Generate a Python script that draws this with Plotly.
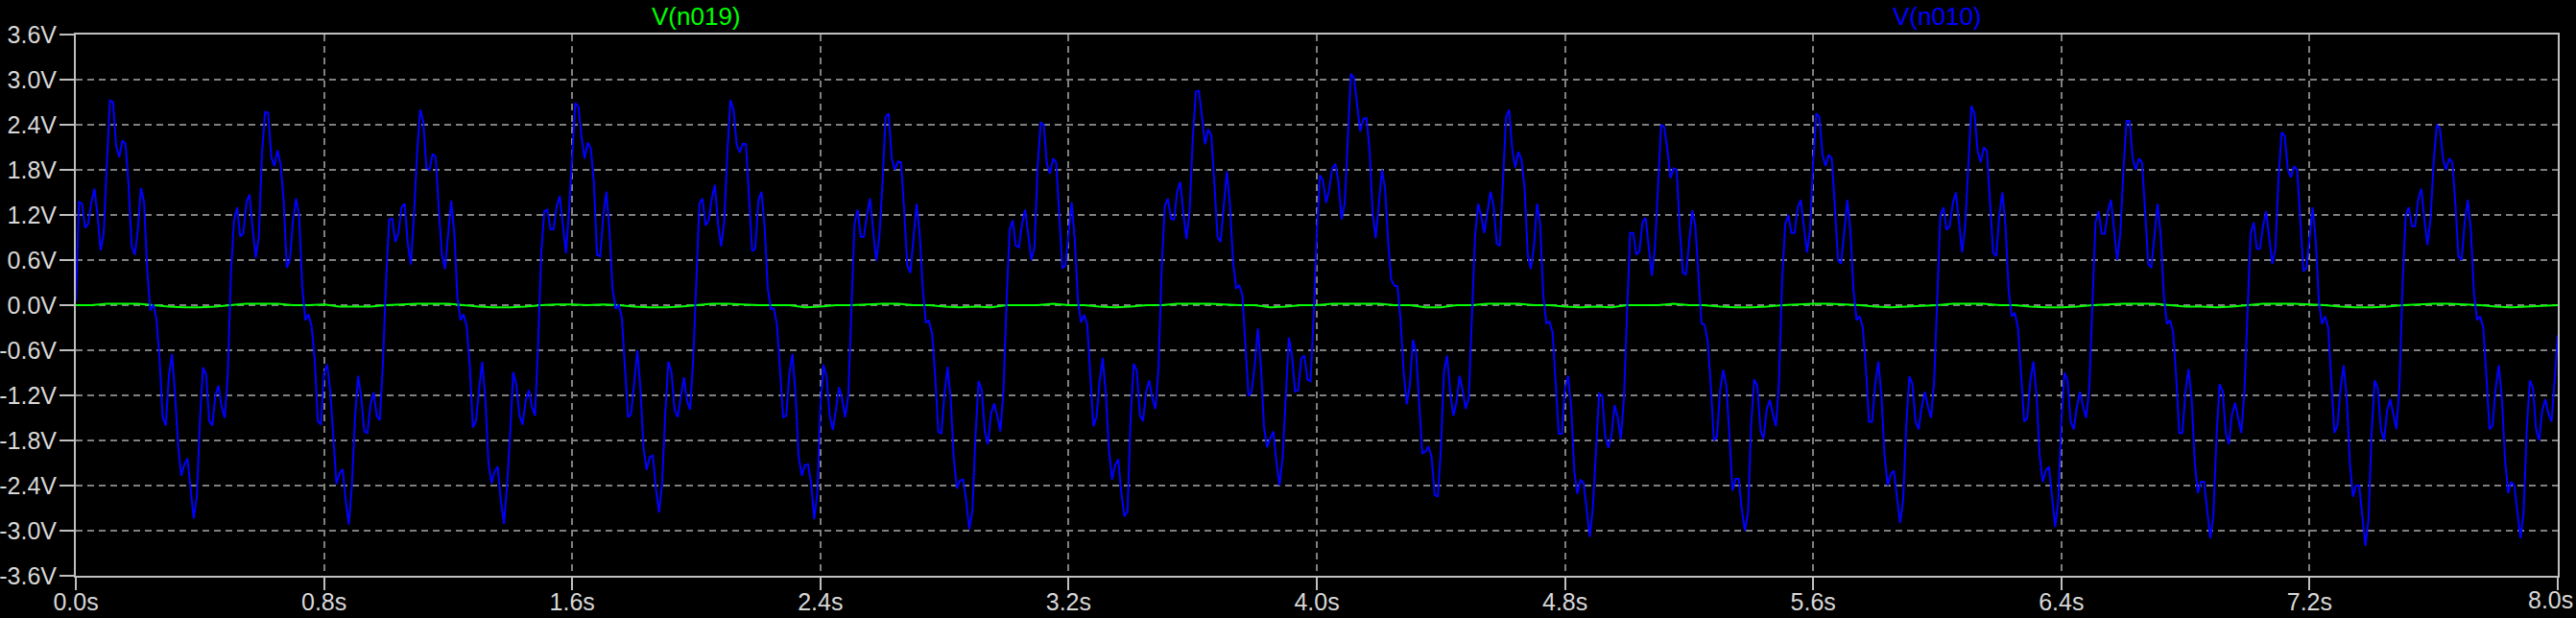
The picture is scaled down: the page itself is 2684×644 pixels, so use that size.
import plotly.graph_objects as go

# ---------------- data ----------------
DT_N010 = 0.01   # sample step of V(n010), seconds
DT_N019 = 0.05   # sample step of V(n019), seconds

n010_s0 = [0.05, 1.37, 1.35, 1.03, 1.08, 1.36, 1.55, 1.20, 0.73, 0.96,
           1.88, 2.72, 2.70, 2.12, 1.97, 2.19, 2.15, 1.61, 0.79, 0.67,
           1.01, 1.56, 1.37, 0.48, -0.07, 0.01, -0.19, -0.72, -1.49, -1.60,
           -0.94, -0.65, -1.20, -1.88, -2.27, -2.12, -2.04, -2.48, -2.84, -2.55,
           -1.54, -0.83, -0.92, -1.54, -1.60, -1.20, -1.07, -1.35, -1.50, -0.91,
           0.43, 1.13, 1.30, 0.91, 0.96, 1.37, 1.47, 1.02, 0.63, 0.91,
           2.02, 2.57, 2.56, 1.97, 1.85, 2.06, 1.88, 1.39, 0.50, 0.60,
           1.13, 1.42, 1.18, 0.24, -0.20, -0.12, -0.28, -0.72, -1.54, -1.59,
           -0.91, -0.79, -1.13, -1.75, -2.38, -2.24, -2.18, -2.60, -2.92, -2.40,
           -1.49, -0.94, -1.23, -1.68, -1.70, -1.32, -1.16, -1.47, -1.53, -0.77]
n010_s1 = [0.34, 1.14, 1.15, 0.84, 0.96, 1.30, 1.35, 0.82, 0.54, 1.20,
           2.02, 2.60, 2.45, 1.83, 1.80, 2.01, 1.97, 1.27, 0.67, 0.48,
           0.91, 1.39, 0.96, 0.10, -0.20, -0.12, -0.28, -0.82, -1.63, -1.54,
           -1.11, -0.75, -1.25, -2.09, -2.37, -2.21, -2.15, -2.60, -2.91, -2.40,
           -1.71, -0.89, -1.06, -1.47, -1.59, -1.27, -1.13, -1.35, -1.47, -0.53,
           0.67, 1.25, 1.27, 1.01, 1.01, 1.32, 1.45, 1.05, 0.69, 1.27,
           2.07, 2.69, 2.64, 2.24, 1.95, 2.16, 2.09, 1.63, 0.67, 0.65,
           1.18, 1.51, 1.01, 0.22, -0.05, 0.01, -0.17, -0.77, -1.49, -1.45,
           -1.02, -0.60, -1.11, -1.90, -2.19, -2.02, -2.00, -2.45, -2.76, -2.36,
           -1.44, -0.75, -0.89, -1.39, -1.49, -1.20, -0.96, -1.27, -1.39, -0.72]
n010_s2 = [0.29, 1.35, 1.42, 1.06, 1.13, 1.42, 1.60, 1.08, 0.78, 1.11,
           2.02, 2.73, 2.60, 2.14, 2.03, 2.15, 2.14, 1.35, 0.72, 0.75,
           1.39, 1.51, 1.06, 0.24, -0.05, -0.04, -0.26, -0.87, -1.49, -1.47,
           -0.91, -0.65, -1.20, -2.02, -2.27, -2.13, -2.12, -2.36, -2.85, -2.50,
           -1.35, -0.79, -0.96, -1.47, -1.66, -1.40, -1.09, -1.25, -1.49, -1.20,
           -0.14, 1.08, 1.27, 0.91, 0.91, 1.20, 1.42, 1.03, 0.59, 0.91,
           1.61, 2.50, 2.55, 1.95, 1.80, 1.91, 1.90, 1.27, 0.53, 0.43,
           0.87, 1.35, 0.96, 0.22, -0.23, -0.21, -0.38, -0.94, -1.68, -1.71,
           -1.18, -0.82, -1.25, -2.04, -2.44, -2.33, -2.32, -2.60, -2.98, -2.74,
           -1.73, -1.01, -1.13, -1.68, -1.85, -1.44, -1.31, -1.47, -1.68, -1.15]
n010_s3 = [0.05, 1.01, 1.13, 0.79, 0.77, 1.08, 1.27, 0.94, 0.60, 0.77,
           1.83, 2.43, 2.40, 1.88, 1.75, 1.95, 1.90, 1.20, 0.49, 0.53,
           0.99, 1.37, 0.87, 0.06, -0.23, -0.13, -0.25, -0.91, -1.61, -1.49,
           -1.01, -0.70, -1.18, -1.92, -2.32, -2.13, -2.05, -2.50, -2.81, -2.74,
           -1.49, -0.78, -0.87, -1.47, -1.54, -1.15, -1.00, -1.24, -1.38, -0.82,
           0.48, 1.32, 1.42, 1.15, 1.14, 1.51, 1.64, 1.23, 0.88, 1.25,
           2.19, 2.84, 2.85, 2.50, 2.14, 2.34, 2.26, 1.61, 0.91, 0.84,
           1.37, 1.78, 1.35, 0.58, 0.23, 0.26, 0.14, -0.48, -1.21, -1.15,
           -0.79, -0.31, -0.82, -1.63, -1.89, -1.77, -1.68, -2.09, -2.40, -2.02,
           -1.23, -0.43, -0.67, -1.15, -1.13, -0.71, -0.67, -0.99, -1.01, -0.14]
n010_s4 = [0.96, 1.73, 1.66, 1.36, 1.54, 1.82, 1.88, 1.63, 1.14, 1.35,
           2.21, 3.08, 3.02, 2.67, 2.31, 2.48, 2.49, 2.07, 1.23, 0.89,
           1.39, 1.80, 1.56, 0.84, 0.34, 0.26, 0.25, -0.19, -0.89, -1.32,
           -1.06, -0.46, -0.63, -1.32, -1.97, -1.95, -1.88, -2.02, -2.52, -2.55,
           -1.92, -0.89, -0.67, -1.15, -1.47, -1.30, -0.94, -1.13, -1.38, -1.23,
           -0.24, 0.91, 1.35, 1.18, 0.96, 1.25, 1.51, 1.32, 0.82, 0.79,
           1.66, 2.50, 2.60, 2.07, 1.83, 2.04, 1.93, 1.54, 0.67, 0.48,
           0.79, 1.35, 1.08, 0.14, -0.24, -0.22, -0.36, -1.08, -1.71, -1.71,
           -1.11, -0.94, -1.35, -2.21, -2.51, -2.33, -2.36, -2.72, -3.08, -2.69,
           -1.85, -1.18, -1.20, -1.75, -1.90, -1.73, -1.33, -1.49, -1.78, -1.25]
n010_s5 = [-0.10, 0.96, 0.96, 0.67, 0.72, 1.11, 1.16, 0.77, 0.39, 0.77,
           1.63, 2.40, 2.37, 2.07, 1.69, 1.82, 1.80, 1.01, 0.43, 0.41,
           0.82, 1.26, 1.06, 0.43, -0.24, -0.26, -0.48, -1.06, -1.80, -1.75,
           -1.13, -0.86, -1.07, -1.73, -2.47, -2.31, -2.31, -2.72, -3.00, -2.76,
           -1.59, -0.99, -1.07, -1.66, -1.78, -1.39, -1.26, -1.45, -1.61, -1.01,
           0.34, 1.08, 1.20, 0.96, 0.96, 1.30, 1.40, 1.05, 0.70, 1.00,
           1.90, 2.55, 2.50, 2.00, 1.85, 2.00, 1.95, 1.30, 0.60, 0.55,
           1.00, 1.40, 1.00, 0.20, -0.20, -0.15, -0.30, -0.85, -1.55, -1.55,
           -1.05, -0.75, -1.20, -2.00, -2.40, -2.25, -2.20, -2.55, -2.90, -2.60,
           -1.60, -0.95, -1.05, -1.55, -1.65, -1.35, -1.15, -1.35, -1.50, -1.00]
n010_s6 = [0.20, 1.20, 1.30, 1.00, 1.05, 1.35, 1.50, 1.05, 0.70, 1.05,
           1.95, 2.65, 2.55, 2.05, 1.90, 2.10, 2.05, 1.40, 0.70, 0.65,
           1.20, 1.50, 1.05, 0.20, -0.15, -0.10, -0.30, -0.90, -1.55, -1.50,
           -1.00, -0.75, -1.20, -2.00, -2.35, -2.20, -2.15, -2.55, -2.95, -2.60,
           -1.55, -0.90, -1.00, -1.55, -1.65, -1.35, -1.15, -1.35, -1.50, -1.10,
           0.10, 1.10, 1.25, 0.95, 0.95, 1.25, 1.40, 1.00, 0.60, 0.95,
           1.80, 2.45, 2.45, 1.95, 1.80, 1.95, 1.90, 1.25, 0.55, 0.50,
           0.95, 1.35, 0.95, 0.15, -0.25, -0.20, -0.35, -0.95, -1.70, -1.70,
           -1.15, -0.85, -1.25, -2.10, -2.50, -2.35, -2.35, -2.70, -3.10, -2.80,
           -1.75, -1.05, -1.15, -1.70, -1.85, -1.45, -1.30, -1.50, -1.70, -1.15]
n010_s7 = [0.00, 0.95, 1.10, 0.75, 0.75, 1.05, 1.25, 0.90, 0.55, 0.75,
           1.70, 2.30, 2.25, 1.80, 1.70, 1.85, 1.80, 1.15, 0.45, 0.50,
           0.95, 1.30, 0.85, 0.05, -0.25, -0.15, -0.30, -0.95, -1.70, -1.60,
           -1.10, -0.80, -1.25, -2.10, -2.55, -2.40, -2.40, -2.80, -3.20, -2.85,
           -1.70, -1.00, -1.10, -1.65, -1.80, -1.40, -1.25, -1.45, -1.65, -1.05,
           0.30, 1.20, 1.30, 1.05, 1.05, 1.40, 1.55, 1.15, 0.80, 1.15,
           1.90, 2.40, 2.35, 1.95, 1.80, 1.95, 1.90, 1.35, 0.65, 0.60,
           1.10, 1.40, 1.00, 0.15, -0.20, -0.15, -0.30, -0.95, -1.65, -1.60,
           -1.10, -0.80, -1.25, -2.05, -2.50, -2.35, -2.40, -2.75, -3.10, -2.75,
           -1.65, -1.00, -1.10, -1.65, -1.80, -1.40, -1.25, -1.45, -1.55, -1.00,
           -0.40]

n019_vals = [0, 0, 0.02, 0.02, 0.02, 0, -0.02, -0.03, -0.03, -0.02, 0, 0.02, 0.02, 0.02, 0, 0,
             0.01, -0.02, -0.02, -0.02, 0, 0.01, 0.02, 0.02, 0.02, 0, -0.02, -0.03, -0.03, -0.02, 0, 0.01,
             0.01, 0, 0.01, 0, -0.02, -0.03, -0.03, -0.02, 0, 0.02, 0.02, 0.01, 0, 0, 0, -0.03,
             -0.02, 0, 0, 0.01, 0.02, 0.02, 0, 0, -0.02, -0.03, -0.02, -0.03, 0, 0, 0, 0.02,
             0, 0, -0.02, -0.03, -0.02, 0, 0, 0.02, 0.02, 0.02, 0.01, 0, 0, -0.03, -0.02, 0,
             0, 0.02, 0.02, 0.02, 0.02, 0, 0, -0.03, -0.03, 0, 0, 0.02, 0.02, 0.02, 0, 0,
             -0.02, -0.03, -0.02, -0.03, 0, 0, 0, 0.02, 0, 0, -0.02, -0.03, -0.03, -0.02, 0, 0.01,
             0.02, 0.02, 0.01, 0, -0.02, -0.03, -0.02, -0.01, 0, 0.02, 0.02, 0.02, 0, 0, -0.02, -0.03,
             -0.03, -0.02, 0, 0.01, 0.02, 0.02, 0.02, 0, -0.02, -0.02, -0.03, -0.02, 0, 0.02, 0.02, 0.02,
             0.01, 0, -0.02, -0.03, -0.03, -0.02, 0, 0.01, 0.02, 0.02, 0.01, 0, -0.02, -0.03, -0.02, -0.01,
             0]

y_tick_vals = [-3.6, -3.0, -2.4, -1.8, -1.2, -0.6, 0.0, 0.6, 1.2, 1.8, 2.4, 3.0, 3.6]
y_tick_text = ["-3.6V", "-3.0V", "-2.4V", "-1.8V", "-1.2V", "-0.6V", "0.0V",
               "0.6V", "1.2V", "1.8V", "2.4V", "3.0V", "3.6V"]
x_tick_vals = [0.0, 0.8, 1.6, 2.4, 3.2, 4.0, 4.8, 5.6, 6.4, 7.2, 8.0]
x_tick_text = ["0.0s", "0.8s", "1.6s", "2.4s", "3.2s", "4.0s", "4.8s",
               "5.6s", "6.4s", "7.2s", "8.0s"]

n010 = n010_s0 + n010_s1 + n010_s2 + n010_s3 + n010_s4 + n010_s5 + n010_s6 + n010_s7
t_n010 = [round(i * DT_N010, 2) for i in range(len(n010))]
t_n019 = [round(i * DT_N019, 2) for i in range(len(n019_vals))]

# ---------------- figure ----------------
FONT = "Liberation Sans, Arial, sans-serif"
FRAME = "#c0c0c0"
GRID = "#808080"
TXT = "#d8d8d8"

fig = go.Figure()
fig.add_trace(go.Scatter(x=t_n019, y=n019_vals, mode="lines", name="V(n019)",
                         line=dict(color="#00ff00", width=2)))
fig.add_trace(go.Scatter(x=t_n010, y=n010, mode="lines", name="V(n010)",
                         line=dict(color="#0000ff", width=2)))

# the last x label sits at the very right edge of the window: draw it right-aligned
x_tick_shown = x_tick_text[:-1] + [""]

fig.update_layout(
    width=2684, height=644,
    margin=dict(l=79, r=19, t=36, b=44, autoexpand=False),
    paper_bgcolor="#000000", plot_bgcolor="#000000",
    showlegend=False,
    font=dict(family=FONT, size=26, color=TXT),
    annotations=[
        dict(text="V(n019)", x=0.25, y=1.0337, xref="paper", yref="paper",
             xanchor="center", yanchor="middle", showarrow=False,
             font=dict(family=FONT, size=26, color="#00ff00")),
        dict(text="V(n010)", x=0.75, y=1.0337, xref="paper", yref="paper",
             xanchor="center", yanchor="middle", showarrow=False,
             font=dict(family=FONT, size=26, color="#0000ff")),
        dict(text=x_tick_text[-1], x=1.0069, y=-0.0443, xref="paper", yref="paper",
             xanchor="right", yanchor="middle", showarrow=False,
             font=dict(family=FONT, size=25, color=TXT)),
    ],
)
fig.update_xaxes(range=[0, 8], tickvals=x_tick_vals, ticktext=x_tick_shown,
                 automargin=False, ticklabelstandoff=-9, ticklabeloverflow="allow",
                 showgrid=True, gridcolor=GRID, griddash="7px,5px", gridwidth=2,
                 showline=True, linecolor=FRAME, linewidth=2, mirror=True,
                 ticks="outside", ticklen=13, tickwidth=2, tickcolor=FRAME,
                 zeroline=False, tickfont=dict(family=FONT, size=25, color=TXT))
fig.update_yaxes(range=[-3.6, 3.6], tickvals=y_tick_vals, ticktext=y_tick_text,
                 automargin=False, ticklabelstandoff=-2,
                 showgrid=True, gridcolor=GRID, griddash="7px,5px", gridwidth=2,
                 showline=True, linecolor=FRAME, linewidth=2, mirror=True,
                 ticks="outside", ticklen=15, tickwidth=2, tickcolor=FRAME,
                 zeroline=False, tickfont=dict(family=FONT, size=25, color=TXT))

fig.write_html("out.html", config={"displayModeBar": False})

# remove the browser's default page margin so the figure fills the window exactly
with open("out.html", "r", encoding="utf-8") as f:
    html = f.read()
html = html.replace("<head>", "<head><style>html,body{margin:0;padding:0;overflow:hidden;background:#000;}</style>", 1)
with open("out.html", "w", encoding="utf-8") as f:
    f.write(html)
